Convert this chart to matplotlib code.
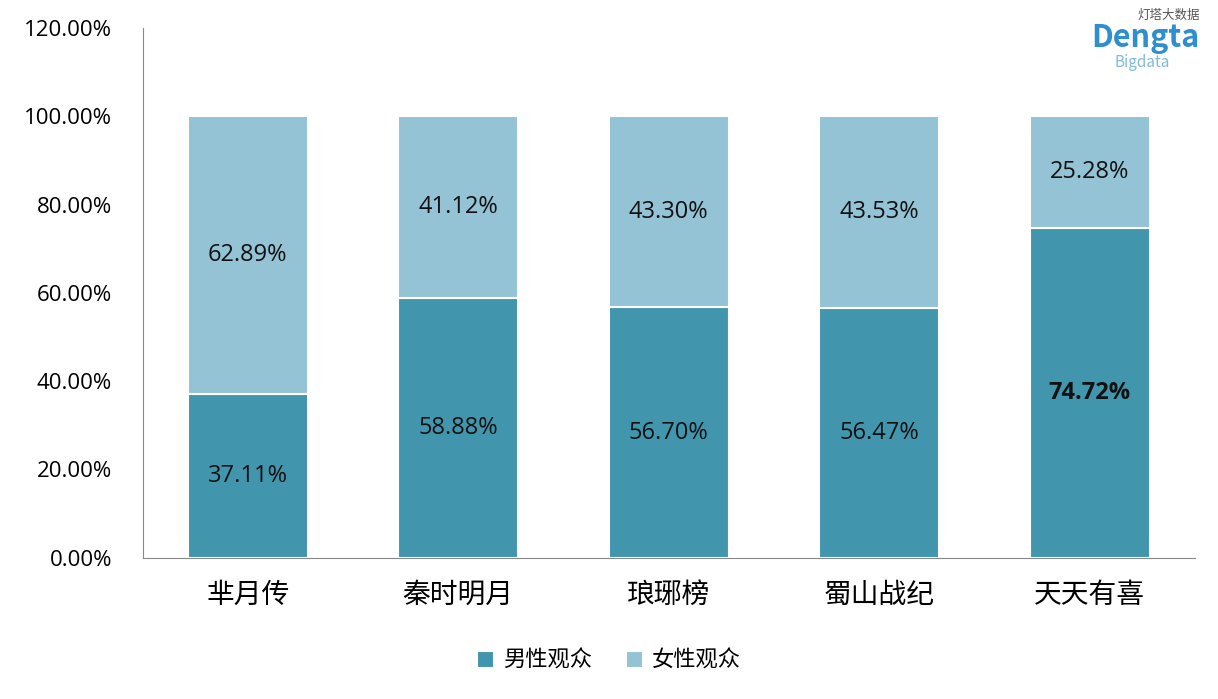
import matplotlib.pyplot as plt
import numpy as np

plt.rcParams['font.family'] = ['Noto Sans CJK SC', 'DejaVu Sans']

shows = ['芈月传', '秦时明月', '琅琊榜', '蜀山战纪', '天天有喜']
male = [37.11, 58.88, 56.70, 56.47, 74.72]
female = [62.89, 41.12, 43.30, 43.53, 25.28]
yticks = [0, 20, 40, 60, 80, 100, 120]

dark = '#4196AE'
light = '#93C3D5'
num_font = ['Open Sans', 'DejaVu Sans']

fig = plt.figure(figsize=(12.18, 6.99), dpi=100)
ax = fig.add_axes([0.117, 0.202, 0.864, 0.758])
x = np.arange(len(shows))
ax.bar(x, male, width=0.57, color=dark, edgecolor='white', linewidth=1.5, label='男性观众')
ax.bar(x, female, width=0.57, bottom=male, color=light, edgecolor='white', linewidth=1.5, label='女性观众')

for i in range(len(shows)):
    ax.text(x[i], male[i] / 2, f'{male[i]:.2f}%', ha='center', va='center', fontsize=17, family=num_font,
            fontweight='bold' if i == len(shows) - 1 else 'normal', color='#111111')
    ax.text(x[i], male[i] + female[i] / 2, f'{female[i]:.2f}%', ha='center', va='center', fontsize=17,
            family=num_font, color='#111111')

ax.set_xlim(-0.5, 4.5)
ax.set_ylim(0, 120)
ax.set_yticks(yticks)
ax.set_yticklabels([f'{v:.2f}%' for v in yticks], fontsize=16, family=num_font)
ax.set_xticks(x)
ax.set_xticklabels(shows, fontsize=20)
ax.tick_params(axis='y', length=0, pad=22)
ax.tick_params(axis='x', length=0, pad=16)
for s in ['top', 'right']:
    ax.spines[s].set_visible(False)
for s in ['left', 'bottom']:
    ax.spines[s].set_color('#888888')

fig.legend(loc='lower center', bbox_to_anchor=(0.5, 0.01), ncol=2, frameon=False, fontsize=16,
           handlelength=0.8, handleheight=0.8, handletextpad=0.4, columnspacing=1.5)

fig.text(0.985, 0.945, 'Dengta', ha='right', va='center', fontsize=22, fontweight='bold', color='#2e8fd0')
fig.text(0.985, 0.978, '灯塔大数据', ha='right', va='center', fontsize=9, color='#555555')
fig.text(0.915, 0.91, 'Bigdata', ha='left', va='center', fontsize=11, color='#7fbbe0')

fig.savefig('out.png', dpi=100)
